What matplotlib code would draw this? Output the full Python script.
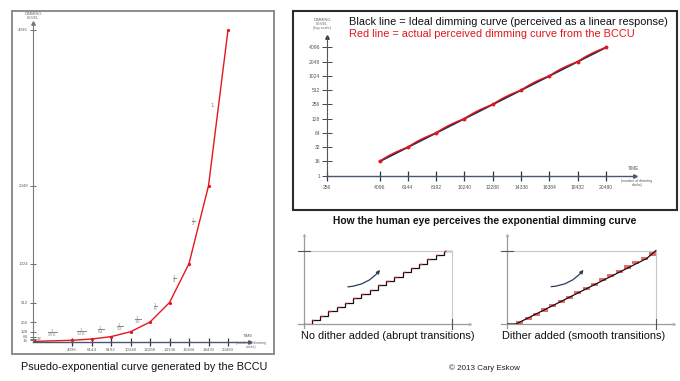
import numpy as np
import matplotlib.pyplot as plt
from matplotlib.patches import Rectangle, FancyArrowPatch

plt.rcParams['font.family'] = ['Liberation Sans', 'DejaVu Sans']

# ---- data ----
clock_ticks = [4096, 6144, 8192, 10240, 12288, 14336, 16384, 18432, 20480]
level_ticks = [16, 32, 64, 128, 256, 512, 1024, 2048, 4096]
# red curve of the left chart (dimming clock -> level)
bccu_x = [0, 4096, 6144, 8192, 10240, 12288, 14336, 16384, 18432, 20480]
bccu_y = [1, 16, 32, 64, 128, 256, 512, 1024, 2048, 4096]
step_fracs = [r'$\frac{1}{256}$', r'$\frac{1}{128}$', r'$\frac{1}{64}$', r'$\frac{1}{32}$',
              r'$\frac{1}{16}$', r'$\frac{1}{8}$', r'$\frac{1}{4}$', r'$\frac{1}{2}$', '1']
# perceived (log) chart
log_x = [4096, 6144, 8192, 10240, 12288, 14336, 16384, 18432, 20480]
log_y = [16, 32, 64, 128, 256, 512, 1024, 2048, 4096]
log_ticks_y = [1, 16, 32, 64, 128, 256, 512, 1024, 2048, 4096]
log_ticks_x = [256, 4096, 6144, 8192, 10240, 12288, 14336, 16384, 18432, 20480]
# small staircase charts
stair_levels = [1, 2, 3, 4, 5, 6, 7, 8, 9, 10, 11, 12, 13, 14, 15, 16, 17]
dither_line_x = [0.0, 0.059, 0.939, 1.0]
dither_line_y = [0.0, 0.0, 0.894, 1.0]

RED = '#e3171d'
NAVY = '#1d2a44'
W, H = 680, 381

fig = plt.figure(figsize=(6.8, 3.81), dpi=100)


def px_axes(x0, y0, x1, y1):
    return fig.add_axes([x0 / W, 1 - y1 / H, (x1 - x0) / W, (y1 - y0) / H])


def ftext(x, y, s, **kw):
    fig.text(x / W, 1 - y / H, s, **kw)


# ---- frames ----
fig.add_artist(Rectangle((12 / W, 1 - 354 / H), 262 / W, 343 / H, transform=fig.transFigure,
                         fill=False, ec='#8c8c8c', lw=1.4))
fig.add_artist(Rectangle((292.5 / W, 1 - 210 / H), 384.5 / W, 199 / H, transform=fig.transFigure,
                         fill=False, ec='#2b2b2b', lw=1.5))

# ---- left chart: linear scale ----
ax = px_axes(33, 23, 250, 341.5)
ax.set_xlim(0, 22790)
ax.set_ylim(0, 4188)
for s in ['top', 'right']:
    ax.spines[s].set_visible(False)
ax.spines['left'].set_color('#7a7a7a')
ax.spines['bottom'].set_color('#4a5670')
ax.spines['left'].set_linewidth(0.8)
ax.spines['bottom'].set_linewidth(1.0)
ax.plot(1, 0, '>', color='#4a5670', ms=2.5, transform=ax.transAxes, clip_on=False)
ax.plot(0, 1, '^', color='#7a7a7a', ms=2.5, transform=ax.transAxes, clip_on=False)
ax.set_xticks(clock_ticks)
ax.set_xticklabels([str(v) for v in clock_ticks])
ax.set_yticks(level_ticks)
ax.set_yticklabels(['16', '', '64', '128', '256', '512', '1024', '2048', '4096'])
ax.tick_params(axis='x', direction='inout', length=6, width=0.9, color='#2a3550',
               labelsize=3.2, labelcolor='#666666', pad=2)
ax.tick_params(axis='y', direction='inout', length=5, width=0.6, color='#555555',
               labelsize=3.2, labelcolor='#666666', pad=1)
ax.text(400, 32, '32', fontsize=3.2, color='#666666', va='center')
ax.plot(bccu_x, bccu_y, color=RED, lw=1.0, marker='o', ms=1.3)
fig.canvas.draw()
for i in range(len(step_fracs)):
    p0 = ax.transData.transform((bccu_x[i], bccu_y[i]))
    p1 = ax.transData.transform((bccu_x[i + 1], bccu_y[i + 1]))
    d = (p1 - p0) / np.hypot(*(p1 - p0))
    off = np.array([-d[1], d[0]]) * 6
    ax.annotate(step_fracs[i], ((bccu_x[i] + bccu_x[i + 1]) / 2, (bccu_y[i] + bccu_y[i + 1]) / 2),
                xytext=(off[0] * 0.72, off[1] * 0.72 + 1), textcoords='offset points',
                ha='center', va='center', fontsize=4.3, color='#8a8a8a')
ftext(33, 16, 'DIMMING\nLEVEL', fontsize=2.8, color='#666666', ha='center', va='center', linespacing=1.0)
ftext(248, 336, 'TIME', fontsize=3.2, color='#666666', ha='center', va='center')
ftext(251, 345, '(number of dimming\nclocks)', fontsize=2.4, color='#666666', ha='center', va='center',
      linespacing=1.0)
ftext(144, 367, 'Psuedo-exponential curve generated by the BCCU', fontsize=7.8, color='#111111',
      ha='center', va='center')


# ---- top right chart: log scale ----
def fwd(v):
    v = np.asarray(v, dtype=float)
    return np.where(v >= 16, np.log2(np.maximum(v, 1e-9)) - 3, (v - 1) / 15)


def inv(f):
    f = np.asarray(f, dtype=float)
    return np.where(f >= 1, 2 ** (f + 3), f * 15 + 1)


ax2 = px_axes(326.5, 37, 635, 175.7)
ax2.set_xlim(256, 22580)
ax2.set_yscale('function', functions=(fwd, inv))
ax2.set_ylim(1, 6794)
for s in ['top', 'right']:
    ax2.spines[s].set_visible(False)
ax2.spines['left'].set_color('#555555')
ax2.spines['bottom'].set_color('#4a5670')
ax2.spines['left'].set_linewidth(0.8)
ax2.spines['bottom'].set_linewidth(1.0)
ax2.plot(1, 0, '>', color='#4a5670', ms=2.5, transform=ax2.transAxes, clip_on=False)
ax2.plot(0, 1, '^', color='#333333', ms=2.5, transform=ax2.transAxes, clip_on=False)
ax2.set_xticks(log_ticks_x)
ax2.set_xticklabels([str(v) for v in log_ticks_x])
ax2.set_yticks(log_ticks_y)
ax2.set_yticklabels([str(v) for v in log_ticks_y])
ax2.minorticks_off()
ax2.tick_params(axis='x', direction='inout', length=7, width=0.9, color='#2a3550',
                labelsize=3.6, labelcolor='#555555', pad=3)
ax2.tick_params(axis='y', direction='inout', length=7, width=0.7, color='#444444',
                labelsize=3.6, labelcolor='#555555', pad=1)
ax2.plot(log_x, log_y, color=NAVY, lw=1.3)
dense = np.linspace(log_x[0], log_x[-1], 400)
ax2.plot(dense, np.interp(dense, log_x, log_y), color=RED, lw=1.0)
ax2.plot(log_x, log_y, 'o', color=RED, ms=1.8)
ftext(322, 24, 'DIMMING\nLEVEL\n(log scale)', fontsize=2.8, color='#666666', ha='center', va='center',
      linespacing=1.1)
ftext(633, 168, 'TIME', fontsize=3.4, color='#555555', ha='center', va='center')
ftext(637, 183, '(number of dimming\nclocks)', fontsize=2.5, color='#555555', ha='center', va='center',
      linespacing=1.0)
ftext(349, 22, 'Black line = Ideal dimming curve (perceived as a linear response)', fontsize=7.95,
      color='#111111', ha='left', va='center')
ftext(349, 34, 'Red line = actual perceived dimming curve from the BCCU', fontsize=7.95,
      color=RED, ha='left', va='center')

ftext(485, 221, 'How the human eye perceives the exponential dimming curve', fontsize=7.4,
      color='#111111', ha='center', va='center', weight='bold')


# ---- small staircase charts ----
def small_chart(box, dither):
    a = px_axes(*box)
    a.set_xlim(0, 1.122)
    a.set_ylim(0, 1.213)
    a.axis('off')
    g = '#9a9a9a'
    a.plot([0, 0], [-0.05, 1.213], color=g, lw=0.9, clip_on=False)
    a.plot(0, 1.213, '^', color='#bbbbbb', ms=2, mfc='none', mew=0.6, clip_on=False)
    a.plot([-0.04, 1.122], [0, 0], color=g, lw=0.9, clip_on=False)
    a.plot(1.122, 0, '>', color='#bbbbbb', ms=2, mfc='none', mew=0.6, clip_on=False)
    a.plot([-0.03, 1.0], [1, 1], color='#c8c8c8', lw=0.8, clip_on=False)
    a.plot([1, 1], [-0.05, 1], color='#c8c8c8', lw=0.8, clip_on=False)
    a.plot([-0.04, 0.04], [1, 1], color='#555555', lw=0.8, clip_on=False)
    a.plot([1, 1], [-0.07, 0.07], color='#555555', lw=0.8, clip_on=False)
    n = len(stair_levels)
    x0 = 0.052
    edges = np.linspace(x0, 1.0, n + 1)
    w = edges[1] - edges[0]
    lv = np.array(stair_levels) / n
    if not dither:
        a.plot([0, x0, x0], [0, 0, lv[0]], color='#111111', lw=0.9)
        a.stairs(lv, edges, baseline=None, color='#111111', lw=0.9)
        a.hlines(lv, edges[:-1], edges[:-1] + w * 0.3, color=RED, lw=1.0)
    else:
        a.bar(edges[:-1] + w * 0.575, 0.75 / n, width=w * 0.85, bottom=lv - 1 / n - 0.15 / n,
              color='#ec5a5c', alpha=0.9)
        a.plot(dither_line_x, dither_line_y, color='#111111', lw=0.9)
    a.add_patch(FancyArrowPatch((0.276, 0.507), (0.524, 0.769), connectionstyle='arc3,rad=0.25',
                                arrowstyle='-|>', mutation_scale=5, color='#2a3b5c', lw=0.9))
    return a


small_chart((304.3, 235, 470, 324.3), False)
small_chart((507.3, 235, 674, 324), True)
ftext(388, 336, 'No dither added (abrupt transitions)', fontsize=7.9, color='#111111',
      ha='center', va='center')
ftext(584, 336, 'Dither added (smooth transitions)', fontsize=7.9, color='#111111',
      ha='center', va='center')
ftext(484, 368, '\u00a9 2013 Cary Eskow', fontsize=5.75, color='#222222', ha='center', va='center')

fig.savefig('out.png', dpi=100)
